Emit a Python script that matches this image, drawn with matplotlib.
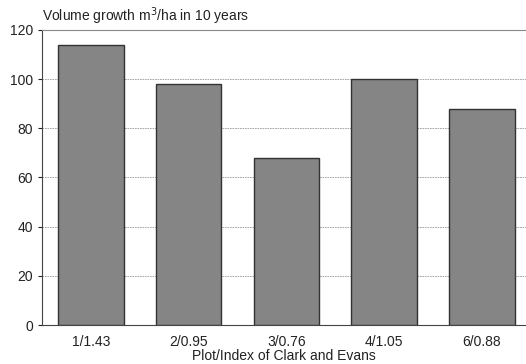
import matplotlib
matplotlib.use("Agg")
import matplotlib.pyplot as plt

categories = ["1/1.43", "2/0.95", "3/0.76", "4/1.05", "6/0.88"]
values = [114, 98, 68, 100, 88]
yticks = [0, 20, 40, 60, 80, 100, 120]

plt.rcParams['font.family'] = ['Liberation Sans', 'DejaVu Sans']
fig = plt.figure(figsize=(5.26, 3.64), dpi=100)
ax = fig.add_axes([0.08, 0.107, 0.92, 0.811])
x = list(range(len(categories)))
ax.bar(x, values, width=0.67, color='#858585', edgecolor='#333333', linewidth=1.0, zorder=3)
ax.set_xlim(-0.5, 4.45)
ax.set_ylim(0, 120)
ax.set_yticks(yticks)
ax.set_xticks(x)
ax.set_xticklabels(categories, fontsize=10, color='#222222')
ax.tick_params(axis='y', labelsize=10, length=3, direction='out', colors='#222222')
ax.tick_params(axis='x', length=4, direction='in', pad=7, colors='#222222')
ax.grid(axis='y', color='#999999', linestyle=(0, (2, 1)), linewidth=0.6, zorder=0)
ax.spines['right'].set_visible(False)
for s in ['left', 'bottom', 'top']:
    ax.spines[s].set_color('#444444')
    ax.spines[s].set_linewidth(0.8)
ax.spines['top'].set_color('#888888')
ax.set_xlabel("Plot/Index of Clark and Evans", fontsize=10, color='#222222', labelpad=0)
fig.text(0.08, 0.925, "Volume growth m$^3$/ha in 10 years", fontsize=10, color='#222222', ha='left', va='bottom')
fig.savefig("out.png", dpi=100)
